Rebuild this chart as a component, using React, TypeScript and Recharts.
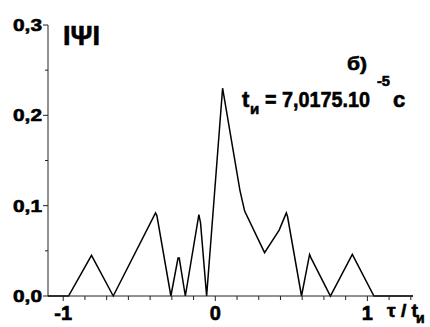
import React from "react";
import { LineChart, Line, XAxis, YAxis } from "recharts";

// |Psi| vs tau / t_i
const tau = [
  -1.1, -0.965, -0.814, -0.671, -0.393, -0.384, -0.292, -0.245, -0.237, -0.197,
  -0.108, -0.097, -0.057, 0.048, 0.162, 0.193, 0.324, 0.42, 0.467, 0.475, 0.567,
  0.62, 0.63, 0.757, 0.901, 1.043, 1.3,
];
const psi = [
  0, 0, 0.045, 0, 0.092, 0.089, 0, 0.042, 0.042, 0,
  0.09, 0.081, 0, 0.23, 0.117, 0.094, 0.048, 0.073, 0.092, 0.088, 0,
  0.046, 0.042, 0, 0.046, 0, 0,
];

const xTicks = Array.from({ length: 17 }, (_, k) => -1 + k / 7);
const xLabels = ["-1", "0", "1"];
const yTicks = [0, 0.05, 0.1, 0.15, 0.2, 0.25, 0.3];
const yLabels = ["0,0", "0,1", "0,2", "0,3"];

const data = tau.map((t, i) => ({ t, v: psi[i] }));

const FONT = "'Liberation Sans', Arial, sans-serif";

const isMajor = (v: number, step: number) =>
  Math.abs(v / step - Math.round(v / step)) < 1e-6;

function XTick(props: any) {
  const { x, y, payload } = props;
  const v = payload.value;
  const axisY = y - 7;
  const major = isMajor(v, 1);
  const label = major ? xLabels[Math.round(v) + 1] : null;
  return (
    <g>
      <line x1={x} y1={axisY} x2={x} y2={axisY + (major ? 5 : 4)} stroke="#222" strokeWidth={1} />
      {label && (
        <text x={x} y={axisY + 24} textAnchor="middle" fontFamily={FONT} fontWeight="bold" fontSize={20}
          stroke="#000" strokeWidth={0.6} fill="#000">
          {label}
        </text>
      )}
    </g>
  );
}

function YTick(props: any) {
  const { x, y, payload } = props;
  const v = payload.value;
  const axisX = x + 7;
  const major = isMajor(v, 0.1);
  const label = major ? yLabels[Math.round(v * 10)] : null;
  return (
    <g>
      <line x1={axisX - (major ? 5 : 3)} y1={y} x2={axisX} y2={y} stroke="#222" strokeWidth={1} />
      {label && (
        <text x={axisX - 35} y={y + 6} fontFamily={FONT} fontWeight="bold" fontSize={17}
          textLength={29} lengthAdjust="spacingAndGlyphs" stroke="#000" strokeWidth={0.6} fill="#000">
          {label}
        </text>
      )}
    </g>
  );
}

export default function App() {
  return (
    <div style={{ position: "absolute", left: 0, top: 0, width: 430, height: 327, background: "#fff" }}>
      <LineChart width={430} height={327} data={data} margin={{ top: 25, right: 17, bottom: 0, left: 0 }}>
        <XAxis
          dataKey="t"
          type="number"
          domain={[-1.1, 1.3]}
          ticks={xTicks}
          interval={0}
          allowDataOverflow
          height={31}
          tickSize={5}
          tickMargin={2}
          tickLine={false}
          axisLine={{ stroke: "#222", strokeWidth: 1 }}
          tick={<XTick />}
        />
        <YAxis
          type="number"
          domain={[0, 0.3]}
          ticks={yTicks}
          interval={0}
          width={48}
          tickSize={5}
          tickMargin={2}
          tickLine={false}
          axisLine={{ stroke: "#222", strokeWidth: 1 }}
          tick={<YTick />}
        />
        <Line
          type="linear"
          dataKey="v"
          stroke="#000"
          strokeWidth={1.5}
          dot={false}
          isAnimationActive={false}
        />
      </LineChart>
      <svg
        width={430}
        height={327}
        style={{ position: "absolute", left: 0, top: 0, pointerEvents: "none" }}
        fontFamily={FONT}
        fontWeight="bold"
        fill="#000"
        stroke="#000"
        strokeWidth={0.6}
      >
        <text x={63} y={45} fontSize={27} textLength={37} lengthAdjust="spacingAndGlyphs">IΨI</text>
        <text x={347} y={70} fontSize={18} textLength={20} lengthAdjust="spacingAndGlyphs">б)</text>
        <text x={242} y={107} fontSize={22}>t</text>
        <text x={250} y={114} fontSize={15}>и</text>
        <text x={265} y={107} fontSize={22} textLength={105} lengthAdjust="spacingAndGlyphs">= 7,0175.10</text>
        <text x={377} y={86} fontSize={14} textLength={13} lengthAdjust="spacingAndGlyphs">-5</text>
        <text x={393} y={107} fontSize={22}>c</text>
        <text x={387} y={317} fontSize={18} textLength={31} lengthAdjust="spacingAndGlyphs">τ / t</text>
        <text x={416} y={323} fontSize={14}>и</text>
      </svg>
    </div>
  );
}
